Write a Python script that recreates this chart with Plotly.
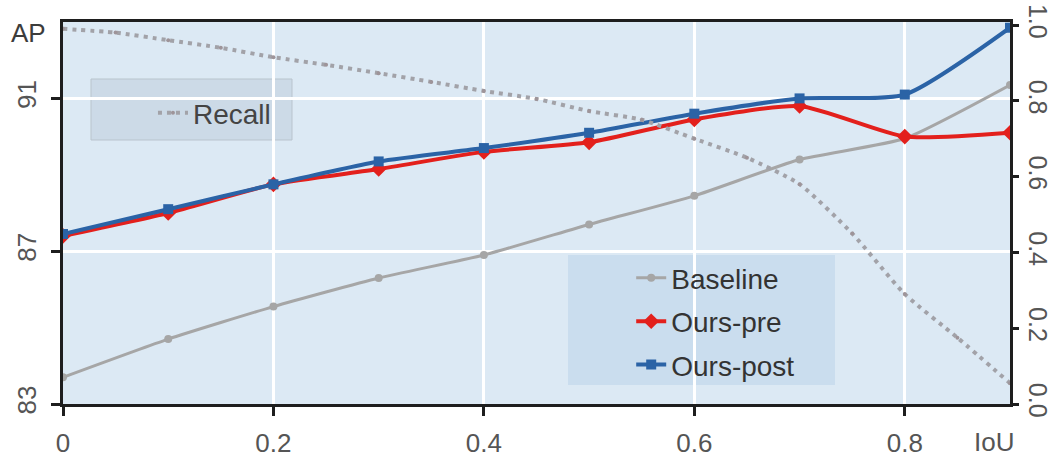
import plotly.graph_objects as go

iou = [0.0, 0.1, 0.2, 0.3, 0.4, 0.5, 0.6, 0.7, 0.8, 0.9]
baseline = [83.7, 84.7, 85.55, 86.3, 86.9, 87.7, 88.45, 89.4, 89.95, 91.35]
ours_pre = [87.4, 88.0, 88.75, 89.15, 89.6, 89.85, 90.45, 90.8, 90.0, 90.1]
ours_post = [87.45, 88.1, 88.75, 89.35, 89.7, 90.1, 90.6, 91.0, 91.1, 92.85]

recall_x = [0.0, 0.05, 0.1, 0.15, 0.2, 0.25, 0.3, 0.35, 0.4, 0.45, 0.5, 0.55,
            0.6, 0.65, 0.7, 0.75, 0.8, 0.85, 0.9]
recall = [0.99, 0.98, 0.96, 0.94, 0.915, 0.895, 0.873, 0.85, 0.826, 0.805, 0.773,
          0.75, 0.70, 0.65, 0.58, 0.45, 0.29, 0.175, 0.055]

x_ticks = [0.0, 0.2, 0.4, 0.6, 0.8]
x_ticktext = ["0", "0.2", "0.4", "0.6", "0.8"]
ap_ticks = [83, 87, 91]
recall_ticks = [0.0, 0.2, 0.4, 0.6, 0.8, 1.0]

FONT = "Liberation Sans, Arial, sans-serif"
TICK_COLOR = "#555555"

fig = go.Figure()

fig.add_trace(go.Scatter(
    x=recall_x, y=recall, yaxis="y2", name="Recall", legend="legend2",
    mode="lines+markers",
    line=dict(color="#a2a2a8", width=4, dash="4px,5px", shape="spline", smoothing=0.6),
    marker=dict(color="#9e9499", size=4),
))
fig.add_trace(go.Scatter(
    x=iou, y=baseline, name="Baseline", legendgroup="b",
    mode="lines+markers",
    line=dict(color="#a6a6a6", width=3, shape="spline", smoothing=0.5),
    marker=dict(color="#a6a6a6", size=8, symbol="circle"),
))
fig.add_trace(go.Scatter(
    x=iou, y=ours_pre, name="Ours-pre", legendgroup="r",
    mode="lines+markers",
    line=dict(color="#e3201c", width=4, shape="spline", smoothing=0.6),
    marker=dict(color="#e3201c", size=12, symbol="diamond"),
))
fig.add_trace(go.Scatter(
    x=iou, y=ours_post, name="Ours-post", legendgroup="p",
    mode="lines+markers",
    line=dict(color="#2b63a6", width=4, shape="spline", smoothing=0.6),
    marker=dict(color="#2b63a6", size=10, symbol="square"),
))

axis_line = dict(showline=True, linecolor="#1e1e1e", linewidth=2.5, automargin=False)

fig.update_layout(
    width=1053, height=457,
    margin=dict(l=63, r=43, t=22, b=53),
    paper_bgcolor="white",
    plot_bgcolor="#dce9f4",
    font=dict(family=FONT, size=26, color=TICK_COLOR),
    xaxis=dict(
        range=[0, 0.9], tickvals=x_ticks, ticktext=x_ticktext,
        ticks="outside", ticklen=9, tickwidth=2.5, tickcolor="#1e1e1e",
        showgrid=True, gridcolor="white", gridwidth=3,
        mirror=True, zeroline=False, ticklabelstandoff=5, **axis_line,
        tickfont=dict(size=26, color=TICK_COLOR),
    ),
    yaxis=dict(
        range=[83, 93], tickvals=ap_ticks, tickangle=-90,
        ticks="outside", ticklen=9, tickwidth=2.5, tickcolor="#1e1e1e",
        showgrid=True, gridcolor="white", gridwidth=3, zeroline=False,
        ticklabelstandoff=5,
        **axis_line, tickfont=dict(size=26, color=TICK_COLOR),
    ),
    yaxis2=dict(
        range=[0, 1.008], tickvals=recall_ticks, tickformat=".1f", tickangle=90,
        overlaying="y", side="right",
        ticks="outside", ticklen=6, tickwidth=2.5, tickcolor="#1e1e1e",
        showgrid=False, zeroline=False, ticklabelstandoff=0, **axis_line,
        tickfont=dict(size=25, color=TICK_COLOR),
    ),
    legend=dict(
        x=0.6, y=0.395, xanchor="left", yanchor="top",
        bgcolor="rgba(0,0,0,0)", borderwidth=0,
        font=dict(size=28, color="#333333"),
        tracegroupgap=4, itemwidth=30,
    ),
    legend2=dict(
        x=0.095, y=0.827, xanchor="left", yanchor="top",
        bgcolor="rgba(0,0,0,0)", borderwidth=0,
        font=dict(size=28, color="#444444"),
    ),
    shapes=[
        dict(type="rect", xref="paper", yref="paper", layer="between",
             x0=(568 - 63) / 947, x1=(835 - 63) / 947,
             y0=(404 - 385) / 382, y1=(404 - 255) / 382,
             fillcolor="rgba(170,200,225,0.35)", line=dict(width=0)),
        dict(type="rect", xref="paper", yref="paper", layer="between",
             x0=(91 - 63) / 947, x1=(292 - 63) / 947,
             y0=(404 - 140) / 382, y1=(404 - 79) / 382,
             fillcolor="rgba(185,200,215,0.45)", line=dict(color="#b9c4cd", width=1)),
    ],
    annotations=[
        dict(text="AP", xref="paper", yref="paper", x=(28 - 63) / 947, y=(404 - 33) / 382,
             showarrow=False, xanchor="center", yanchor="middle",
             font=dict(size=26, color="#3c3c3c")),
        dict(text="IoU", xref="paper", yref="paper", x=(994 - 63) / 947, y=(404 - 442) / 382,
             showarrow=False, xanchor="center", yanchor="middle",
             font=dict(size=26, color=TICK_COLOR)),
    ],
)

fig.write_html("out.html", config={"displayModeBar": False},
               post_script="document.body.style.margin='0';")
